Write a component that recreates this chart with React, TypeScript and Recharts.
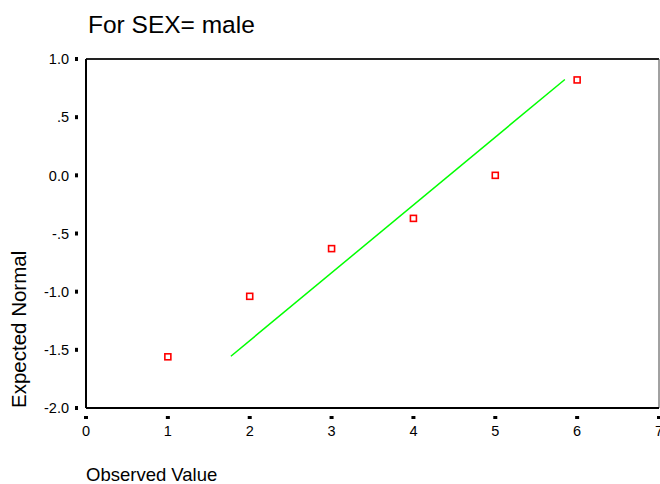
import React from "react";
import { ComposedChart, XAxis, YAxis, Scatter, Line, ReferenceLine } from "recharts";

const observed = [1, 2, 3, 4, 5, 6];
const expectedNormal = [-1.56, -1.04, -0.63, -0.37, 0.0, 0.82];
const fitX = [1.77, 5.85];
const fitY = [-1.555, 0.824];
const xTicks = [0, 1, 2, 3, 4, 5, 6, 7];
const yTicks = [-2, -1.5, -1, -0.5, 0, 0.5, 1];
const yTickLabels = ["-2.0", "-1.5", "-1.0", "-.5", "0.0", ".5", "1.0"];

const points = observed.map((x, i) => ({ x, y: expectedNormal[i] }));
const fitLine = fitX.map((x, i) => ({ x, y: fitY[i] }));

const FONT = "Arial, 'Liberation Sans', sans-serif";

const YTick = (props: any) => {
  const { x, y, payload } = props;
  const idx = yTicks.indexOf(payload.value);
  return (
    <g>
      <rect x={x - 3} y={y - 2} width={3} height={4} fill="#000" />
      <text x={x - 9} y={y} dy="0.36em" textAnchor="end" fontSize={14.5} fontFamily={FONT} fill="#000">
        {yTickLabels[idx]}
      </text>
    </g>
  );
};

const XTick = (props: any) => {
  const { x, y, payload } = props;
  return (
    <g>
      <rect x={x - 2} y={y} width={4} height={3} fill="#000" />
      <text x={x} y={y + 20} textAnchor="middle" fontSize={14.5} fontFamily={FONT} fill="#000">
        {String(payload.value)}
      </text>
    </g>
  );
};

const Square = (props: any) => {
  const { cx, cy } = props;
  return <rect x={cx - 3} y={cy - 3} width={6} height={6} fill="none" stroke="#ff0000" strokeWidth={1.6} />;
};

export default function App() {
  return (
    <div style={{ position: "absolute", left: 0, top: 0, width: 660, height: 484, background: "#fff" }}>
      <ComposedChart width={660} height={484} margin={{ top: 59, right: 1, left: 0, bottom: 0 }}>
        <XAxis
          type="number"
          dataKey="x"
          domain={[0, 7]}
          ticks={xTicks}
          interval={0}
          axisLine={{ stroke: "#000", strokeWidth: 2 }}
          tickLine={false}
          tick={<XTick />}
          height={76}
          allowDataOverflow
        />
        <YAxis
          type="number"
          dataKey="y"
          domain={[-2, 1]}
          ticks={yTicks}
          interval={0}
          axisLine={{ stroke: "#000", strokeWidth: 2 }}
          tickLine={false}
          tick={<YTick />}
          width={86}
          allowDataOverflow
        />
        <ReferenceLine y={1} stroke="#222" strokeWidth={2} />
        <ReferenceLine x={7} stroke="#444" strokeWidth={1} />
        <Line
          data={fitLine}
          dataKey="y"
          type="linear"
          stroke="#00ff00"
          strokeWidth={1.5}
          dot={false}
          activeDot={false}
          isAnimationActive={false}
        />
        <Scatter data={points} dataKey="y" shape={<Square />} isAnimationActive={false} />
        <text x={88} y={33} fontSize={24.5} fontFamily={FONT} fill="#000">For SEX= male</text>
        <text x={86} y={481} fontSize={18.5} fontFamily={FONT} fill="#000">Observed Value</text>
        <text
          x={26}
          y={408}
          fontSize={20.5}
          fontFamily={FONT}
          fill="#000"
          transform="rotate(-90 26 408)"
        >
          Expected Normal
        </text>
      </ComposedChart>
    </div>
  );
}
